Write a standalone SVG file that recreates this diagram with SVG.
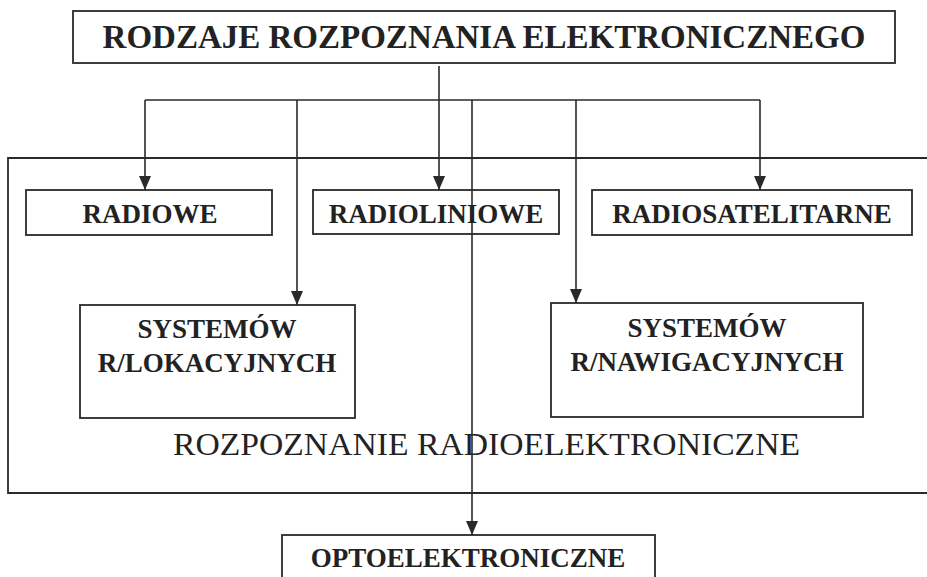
<svg xmlns="http://www.w3.org/2000/svg" width="927" height="577" viewBox="0 0 927 577">
<style>
.box{fill:none;stroke:#2a2a2a;stroke-width:1.8}
.ln{fill:none;stroke:#2a2a2a;stroke-width:1.6}
.b{font-family:"Liberation Serif","Times New Roman",serif;font-weight:bold;fill:#222;text-anchor:middle}
.r{font-family:"Liberation Serif","Times New Roman",serif;fill:#222}
</style>
<defs>
<marker id="ah" viewBox="0 0 14 12" refX="14" refY="6" markerWidth="14" markerHeight="12" markerUnits="userSpaceOnUse" orient="auto">
<path d="M0,0 L14,6 L0,12 Z" fill="#2a2a2a"/>
</marker>
</defs>
<rect width="927" height="577" fill="#fff"/>
<g id="group-radioelektroniczne">
<path class="box" d="M940,158 H8 V493 H940"/>
<text class="r" x="173" y="455" font-size="31" textLength="627" lengthAdjust="spacingAndGlyphs">ROZPOZNANIE RADIOELEKTRONICZNE</text>
</g>
<g id="connectors">
<line class="ln" x1="439" y1="66" x2="439" y2="100"/>
<line class="ln" x1="145" y1="100" x2="760" y2="100"/>
<line class="ln" x1="145" y1="100" x2="145" y2="190" marker-end="url(#ah)"/>
<line class="ln" x1="297" y1="100" x2="297" y2="305" marker-end="url(#ah)"/>
<line class="ln" x1="439" y1="100" x2="439" y2="190" marker-end="url(#ah)"/>
<line class="ln" x1="472" y1="100" x2="472" y2="535" marker-end="url(#ah)"/>
<line class="ln" x1="576" y1="100" x2="576" y2="303" marker-end="url(#ah)"/>
<line class="ln" x1="760" y1="100" x2="760" y2="190" marker-end="url(#ah)"/>
</g>
<g id="title">
<rect class="box" x="73" y="11" width="822" height="52"/>
<text class="b" x="484" y="48" font-size="33">RODZAJE ROZPOZNANIA ELEKTRONICZNEGO</text>
</g>
<g id="radiowe">
<rect class="box" x="26" y="190" width="246" height="45"/>
<text class="b" x="150" y="223" font-size="27">RADIOWE</text>
</g>
<g id="radioliniowe">
<rect class="box" x="313" y="190" width="246" height="44"/>
<text class="b" x="436" y="223" font-size="27">RADIOLINIOWE</text>
</g>
<g id="radiosatelitarne">
<rect class="box" x="592" y="190" width="320" height="45"/>
<text class="b" x="752" y="223" font-size="27">RADIOSATELITARNE</text>
</g>
<g id="systemow-lokacyjnych">
<rect class="box" x="80" y="305" width="275" height="113"/>
<text class="b" x="217" y="338" font-size="27">SYSTEMÓW</text>
<text class="b" x="217" y="372" font-size="27">R/LOKACYJNYCH</text>
</g>
<g id="systemow-nawigacyjnych">
<rect class="box" x="551" y="303" width="312" height="114"/>
<text class="b" x="707" y="337" font-size="27">SYSTEMÓW</text>
<text class="b" x="707" y="371" font-size="27">R/NAWIGACYJNYCH</text>
</g>
<g id="optoelektroniczne">
<rect class="box" x="282" y="535" width="373" height="60"/>
<text class="b" x="468" y="567" font-size="27">OPTOELEKTRONICZNE</text>
</g>
</svg>
